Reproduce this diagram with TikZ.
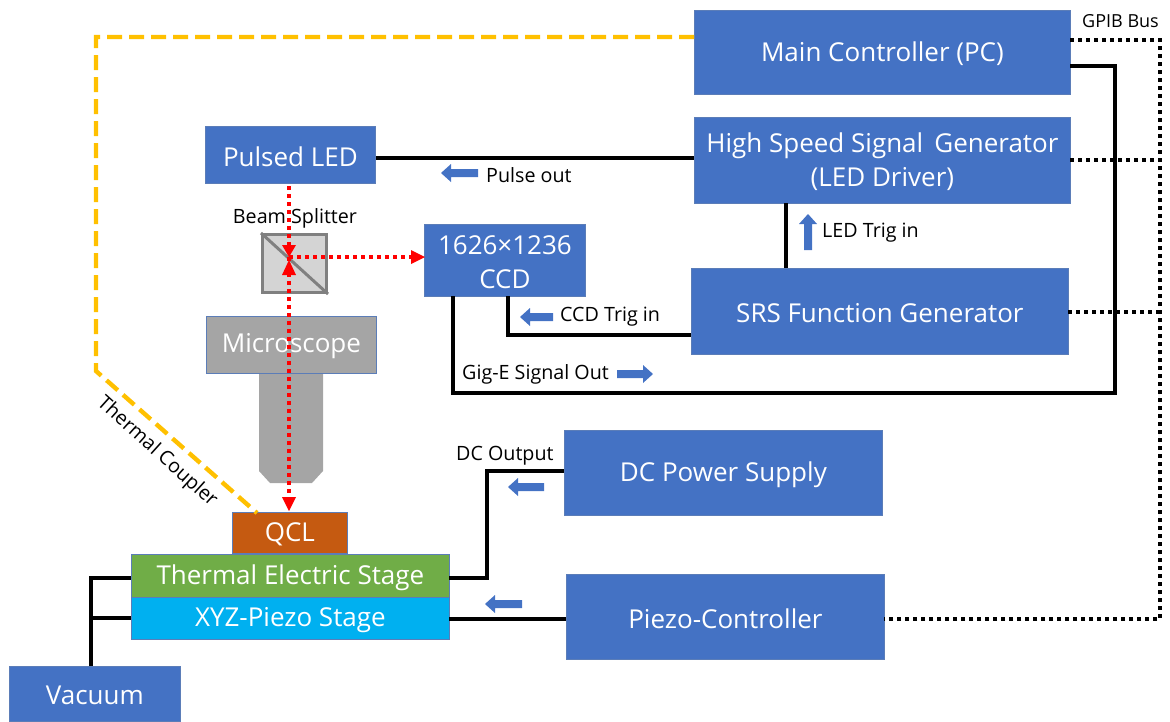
\documentclass[tikz,border=0pt]{standalone}
\usepackage{fontspec}
\setmainfont{Open Sans}
\usetikzlibrary{arrows.meta,calc}
\definecolor{bbl}{HTML}{4472C4}
\definecolor{bedge}{HTML}{5B7DB8}
\definecolor{ggray}{HTML}{A5A5A5}
\definecolor{ocr}{HTML}{C55A11}
\definecolor{grn}{HTML}{70AD47}
\definecolor{cyn}{HTML}{00B0F0}
\definecolor{yel}{HTML}{FFC000}
\tikzset{
 x=1pt,y=-1pt,
 boxbase/.style={draw=bedge,line width=0.8pt,anchor=north west,inner sep=0pt},
 boxtext/.style={text=white,inner sep=0pt,align=center,font=\fontsize{26}{34}\selectfont},
 wire/.style={draw=black,line width=4pt,line join=miter},
 gpib/.style={draw=black,line width=4pt,dash pattern=on 4pt off 4pt},
 beam/.style={draw=red,line width=3.6pt,dash pattern=on 4pt off 4pt},
 tip/.style={fill=red,draw=none},
 coupler/.style={draw=yel,line width=4.4pt,dash pattern=on 15pt off 7pt},
 lab/.style={text=black,font=\fontsize{19.7}{23}\selectfont,inner sep=0pt},
 flowarrow/.style={fill=bbl,draw=none},
}
\newcommand{\bx}[7]{\node[boxbase,fill=#6,minimum width=#4-#2,minimum height=#5-#3] (#1) at (#2,#3) {};
\node[boxtext] (#1t) at ($(#1.center)+(0,1.5)$) {#7};}
\begin{document}
\begin{tikzpicture}
\useasboundingbox (0,0) rectangle (1170,721);
\coordinate (gc) at (1160,40);
\coordinate (gb) at (1160,619);
\bx{main}{694}{10}{1070}{94}{bbl}{Main Controller (PC)}
\bx{hs}{694}{117}{1070}{203}{bbl}{High Speed Signal\, Generator\\(LED Driver)}
\bx{srs}{691}{268}{1068}{354}{bbl}{SRS Function Generator}
\bx{led}{205}{126}{375}{183}{bbl}{Pulsed LED}
\bx{ccd}{424}{224}{585}{296}{bbl}{1626×1236\\CCD}
\bx{dc}{564}{430}{882}{515}{bbl}{DC Power Supply}
\bx{pz}{566}{574}{884}{659}{bbl}{Piezo-Controller}
\bx{vac}{9}{666}{180}{721}{bbl}{Vacuum}
% objective
\fill[ggray] (259,373) -- (323,373) -- (323,471) -- (312,483) -- (270,483) -- (259,471) -- cycle;
\bx{mic}{206}{316}{376}{373}{ggray}{Microscope}
\bx{qcl}{232}{512}{347}{553}{ocr}{QCL}
\bx{te}{131}{554}{449}{597}{grn}{Thermal Electric Stage}
\bx{xyz}{131}{597}{449}{639}{cyn}{XYZ-Piezo Stage}
% beam splitter
\node[draw=gray,fill=black!17,line width=3pt,minimum width=64pt,minimum height=58pt,inner sep=0pt,anchor=north west] (bs) at (261,233) {};
\draw[gray,line width=3pt] (bs.north west) -- (bs.south east);
% wires
\draw[wire] (led.east |- 0,158) -- (hs.west |- 0,158);
\draw[wire] (786,203) -- (786,268);
\draw[wire] (508,296) -- (508,335) -- (691,335);
\draw[wire] (453,296) -- (453,393) -- (1115,393) -- (1115,66) -- (1070,66);
\draw[wire] (449,578) -- (487,578) -- (487,471) -- (564,471);
\draw[wire] (449,619) -- (566,619);
\draw[wire] (91,666) -- (91,578) -- (131,578);
\draw[wire] (91,618) -- (131,618);
% gpib
\draw[gpib] (1070,40) -- (gc) -- (gb) -- (884,619);
\draw[gpib] (1070,160) -- (1160,160);
\draw[gpib] (1068,312) -- (1160,312);
% coupler
\coordinate (cpa) at (257,513);
\draw[coupler] (694,37) -- (96,37) -- (96,371) -- (cpa);
% beams
\coordinate (bsc) at (289,257);
\draw[beam] (289,186) -- (bsc);
\draw[beam] (bsc) -- (289,505);
\draw[beam] (bsc) -- (415,257);
\fill[tip] (282,245) -- (296,245) -- (289,257) -- cycle;
\fill[tip] (282,275) -- (296,275) -- (289,260) -- cycle;
\fill[tip] (411,250) -- (425,257) -- (411,264) -- cycle;
\fill[tip] (282,497) -- (296,497) -- (289,511) -- cycle;
% flow arrows
\fill[flowarrow] (478,169) -- (451,169) -- (451,164) -- (441,173) -- (451,182) -- (451,177) -- (478,177) -- cycle;
\fill[flowarrow] (553,313) -- (530,313) -- (530,308) -- (520,317) -- (530,326) -- (530,321) -- (553,321) -- cycle;
\fill[flowarrow] (617,370) -- (643,370) -- (643,365) -- (653,374) -- (643,383) -- (643,378) -- (617,378) -- cycle;
\fill[flowarrow] (804,250) -- (804,224) -- (799,224) -- (808,214) -- (817,224) -- (812,224) -- (812,250) -- cycle;
\fill[flowarrow] (544,483) -- (518,483) -- (518,478) -- (508,487) -- (518,496) -- (518,491) -- (544,491) -- cycle;
\fill[flowarrow] (522,600) -- (495,600) -- (495,595) -- (485,604) -- (495,613) -- (495,608) -- (522,608) -- cycle;
% labels
\node[lab,anchor=west,font=\fontsize{18}{21}\selectfont] (t1) at (1082,21) {GPIB Bus};
\node[lab,anchor=west] (t2) at (486,175) {Pulse out};
\node[lab,anchor=center] (t3) at (295,218) {Beam Splitter};
\node[lab,anchor=west] (t4) at (822,233) {LED Trig in};
\node[lab,anchor=west] (t5) at (560,317) {CCD Trig in};
\node[lab,anchor=west] (t6) at (462,374) {Gig-E Signal Out};
\node[lab,anchor=west] (t7) at (456,456) {DC Output};
\node[lab,rotate=-42] (t8) at (157,452) {Thermal Coupler};
\end{tikzpicture}
\end{document}
